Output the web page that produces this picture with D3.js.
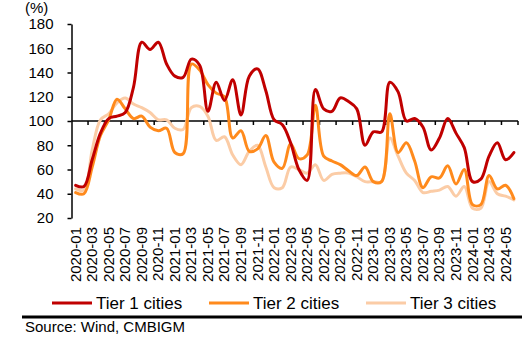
<!DOCTYPE html>
<html><head><meta charset="utf-8">
<script src="https://cdn.jsdelivr.net/npm/d3@7"></script>
<style>body{margin:0;background:#fff}svg{display:block}text{font-family:"Liberation Sans",Arial,sans-serif;fill:#000}</style>
</head><body><svg id="c" width="522" height="340"></svg>
<script>
const months = ["2020-01","2020-02","2020-03","2020-04","2020-05","2020-06","2020-07","2020-08","2020-09","2020-10","2020-11","2020-12",
"2021-01","2021-02","2021-03","2021-04","2021-05","2021-06","2021-07","2021-08","2021-09","2021-10","2021-11","2021-12",
"2022-01","2022-02","2022-03","2022-04","2022-05","2022-06","2022-07","2022-08","2022-09","2022-10","2022-11","2022-12",
"2023-01","2023-02","2023-03","2023-04","2023-05","2023-06","2023-07","2023-08","2023-09","2023-10","2023-11","2023-12",
"2024-01","2024-02","2024-03","2024-04","2024-05","2024-06"];
const tier1 = [47,46,68,90,102,104,107,128,165,159,165,147,137,136,151,146,108,132,117,134,105,137,143,125,101,97,82,60,51,126,110,108,119,116,110,80,91,91,132,124,100,102,95,76,86,102,90,78,50,52,71,82,68,74];
const tier2 = [41,40,62,88,101,118,110,102,104,95,92,94,74,73,147,142,130,123,120,86,92,75,77,88,66,61,81,69,72,113,71,67,64,59,55,62,50,50,106,74,82,67,45,54,53,63,48,60,31,31,55,44,47,36];
const tier3 = [44,43,76,101,106,115,119,114,111,107,101,101,94,93,111,112,104,84,87,72,64,75,80,62,45,45,62,60,57,64,51,56,57,57,54,50,50,50,86,71,57,51,41,42,43,46,38,46,28,28,50,40,38,35];
const seriesNames = ["Tier 1 cities","Tier 2 cities","Tier 3 cities"];
const seriesColors = ["#C00000","#FF8A1C","#FBCCA6"];
const yTicks = [20,40,60,80,100,120,140,160,180];

const svg = d3.select("#c");
const x = d3.scaleBand().domain(months).range([71.5, 518]).padding(0);
const y = d3.scaleLinear().domain([20,180]).range([218, 24]);
const cx = m => x(m) + x.bandwidth()/2;

// y axis
const yAxis = d3.axisLeft(y).tickValues(yTicks).tickSize(4).tickPadding(14).tickSizeOuter(0);
const gy = svg.append("g").attr("transform","translate(71.5,0)").call(yAxis);
gy.select(".domain").attr("stroke","#000").attr("stroke-width",1.5);
gy.selectAll(".tick line").attr("stroke","#000").attr("stroke-width",1.5);
gy.selectAll(".tick text").style("font-size","15px").style("font-family","Liberation Sans, Arial");

svg.append("text").attr("x",25).attr("y",13).style("font-size","15px").text("(%)");

// x axis line at 100
const y100 = y(100);
svg.append("line").attr("x1",71.5).attr("x2",518).attr("y1",y100).attr("y2",y100).attr("stroke","#000").attr("stroke-width",1.5);
const boundaries = months.map((m,i)=>i).filter(i=>i%2===0 && i>0).concat([months.length]);
svg.selectAll(".xt").data(boundaries).enter().append("line")
  .attr("x1",i=>71.5+i*x.bandwidth()).attr("x2",i=>71.5+i*x.bandwidth())
  .attr("y1",y100).attr("y2",y100+4).attr("stroke","#000").attr("stroke-width",1.5);

// x labels at bottom
const labMonths = months.filter((m,i)=>i%2===0);
svg.selectAll(".xl").data(labMonths).enter().append("text")
  .attr("transform",m=>`translate(${cx(m)+5},227) rotate(-90)`)
  .attr("text-anchor","end").style("font-size","15px").text(m=>m);

// lines
const line = d3.line().x((d,i)=>cx(months[i])).y(d=>y(d)).curve(d3.curveCatmullRom.alpha(0.5));
const data = [tier3, tier2, tier1];
const cols = [seriesColors[2], seriesColors[1], seriesColors[0]];
data.forEach((s,k)=>{
  svg.append("path").datum(s).attr("d",line).attr("fill","none")
    .attr("stroke",cols[k]).attr("stroke-width",3).attr("stroke-linejoin","round").attr("stroke-linecap","round");
});

// legend
const legX = [52, 209, 366];
seriesNames.forEach((n,k)=>{
  svg.append("line").attr("x1",legX[k]).attr("x2",legX[k]+40).attr("y1",303).attr("y2",303)
    .attr("stroke",seriesColors[k]).attr("stroke-width",3);
  svg.append("text").attr("x",legX[k]+44).attr("y",309).style("font-size","17px").text(n);
});

// source rule and text
svg.append("line").attr("x1",22).attr("x2",522).attr("y1",317).attr("y2",317).attr("stroke","#000").attr("stroke-width",3);
svg.append("text").attr("x",25).attr("y",332).style("font-size","15px").text("Source: Wind, CMBIGM");
</script></body></html>
